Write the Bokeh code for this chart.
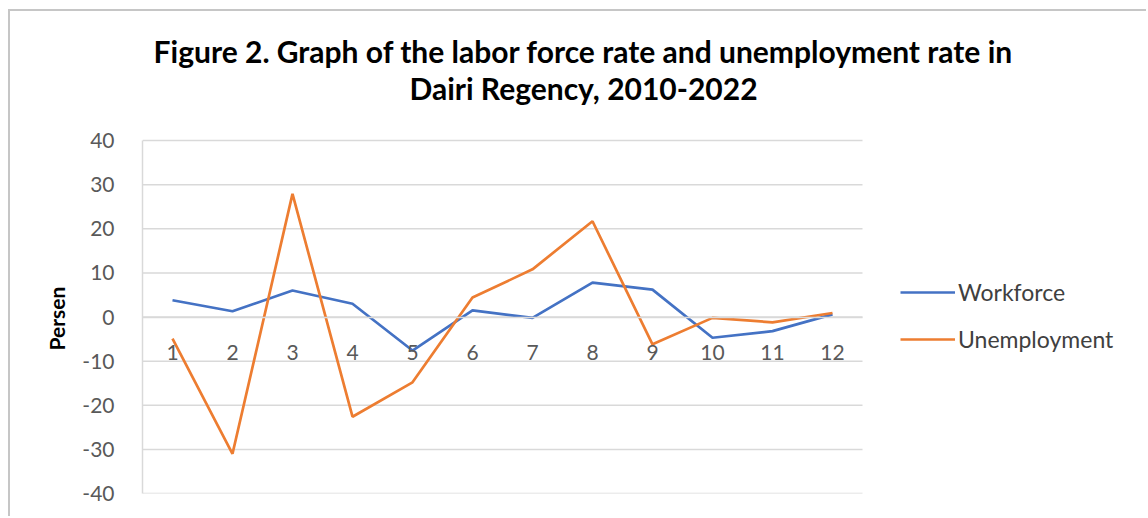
from bokeh.plotting import figure
from bokeh.models import (Label, Title, Legend, LegendItem, FixedTicker, ColumnDataSource,
                          PrintfTickFormatter, Range1d)
from bokeh.embed import file_html
from bokeh.resources import INLINE

periods = ["1", "2", "3", "4", "5", "6", "7", "8", "9", "10", "11", "12"]
workforce = [3.8, 1.3, 6.0, 3.0, -7.6, 1.5, -0.2, 7.8, 6.2, -4.7, -3.2, 0.6]
unemployment = [-4.9, -31.0, 27.9, -22.6, -14.8, 4.4, 10.8, 21.7, -6.2, -0.2, -1.2, 0.9]
y_ticks = [-40, -30, -20, -10, 0, 10, 20, 30, 40]

title_line1 = "Figure 2. Graph of the labor force rate and unemployment rate in"
title_line2 = "Dairi Regency, 2010-2022"
y_label = "Persen"

xpos = list(range(1, len(periods) + 1))
src = ColumnDataSource(dict(x=xpos, wf=workforce, un=unemployment))

# layout geometry (pixels)
W, H = 1138, 507
LEFT, BOTTOM = 132, 25
FRAME_W, FRAME_H = W - LEFT, H - BOTTOM
CAT_PX = 60                      # width of one category band
Y_PX = 353 / 80                  # pixels per unit on y
y_lo, y_hi = y_ticks[0], y_ticks[-1]
y_top = y_hi + (FRAME_H - (y_hi - y_lo) * Y_PX) / Y_PX

p = figure(x_range=Range1d(0.5, 0.5 + FRAME_W / CAT_PX), y_range=Range1d(y_lo, y_top),
           width=W, height=H, output_backend="svg", toolbar_location=None,
           min_border_left=LEFT, min_border_right=0, min_border_top=0,
           min_border_bottom=BOTTOM)
p.styles = {"margin-top": "9px", "margin-left": "8px",
            "border-top": "2px solid #c6c6c6", "border-left": "2px solid #c6c6c6"}
p.outline_line_color = None
p.background_fill_color = "white"
p.border_fill_color = "white"

# horizontal gridlines spanning the category bands only
p.segment(x0=[0.5] * len(y_ticks), x1=[len(periods) + 0.5] * len(y_ticks),
          y0=y_ticks, y1=y_ticks, line_color="#d9d9d9", line_width=1.5)

r1 = p.line("x", "wf", source=src, line_color="#4472C4", line_width=2.7)
r2 = p.line("x", "un", source=src, line_color="#ED7D31", line_width=2.7)

# axes
p.xgrid.visible = False
p.ygrid.visible = False

p.yaxis.ticker = FixedTicker(ticks=y_ticks)
p.yaxis.bounds = (y_lo, y_hi)
p.yaxis.formatter = PrintfTickFormatter(format="%d")
p.yaxis.axis_line_color = "#d9d9d9"
p.yaxis.axis_line_width = 1.5
p.yaxis.major_tick_line_color = None
p.yaxis.minor_tick_line_color = None
p.yaxis.major_label_text_font = "Lato"
p.yaxis.major_label_text_font_size = "21px"
p.yaxis.major_label_text_color = "#595959"
p.yaxis.major_label_standoff = 22

# y-axis title, placed in the left panel
p.add_layout(Title(text=y_label, align="left", offset=143, standoff=21,
                   text_font="Lato", text_font_size="21px", text_font_style="bold",
                   text_color="#000000"), "left")

p.xaxis.fixed_location = 0
p.xaxis.ticker = FixedTicker(ticks=xpos)
p.xaxis.major_label_overrides = {i: s for i, s in zip(xpos, periods)}
p.xaxis.bounds = (0.5, len(periods) + 0.5)
p.xaxis.axis_line_color = "#d9d9d9"
p.xaxis.axis_line_width = 1.5
p.xaxis.major_tick_line_color = None
p.xaxis.minor_tick_line_color = None
p.xaxis.major_label_text_font = "Lato"
p.xaxis.major_label_text_font_size = "21px"
p.xaxis.major_label_text_color = "#595959"
p.xaxis.major_label_standoff = 22

# chart title (screen units relative to the frame's bottom-left)
title_cx = 583 - 142
for txt, mid in ((title_line1, 50.5), (title_line2, 87.5)):
    p.add_layout(Label(x=title_cx, y=493 - mid, x_units="screen", y_units="screen",
                       text=txt, text_align="center", text_baseline="middle",
                       text_font="Lato", text_font_size="30px", text_font_style="bold",
                       text_color="#000000"))

legend = Legend(items=[LegendItem(label="Workforce", renderers=[r1]),
                       LegendItem(label="Unemployment", renderers=[r2])],
                location=(758, 140), border_line_color=None,
                background_fill_alpha=0, padding=0, margin=0,
                glyph_width=55, glyph_height=20, spacing=19,
                label_standoff=3, label_text_font="Lato",
                label_text_font_size="23px", label_text_color="#404040")
p.add_layout(legend, "center")

open("out.html", "w").write(file_html(p, INLINE))
